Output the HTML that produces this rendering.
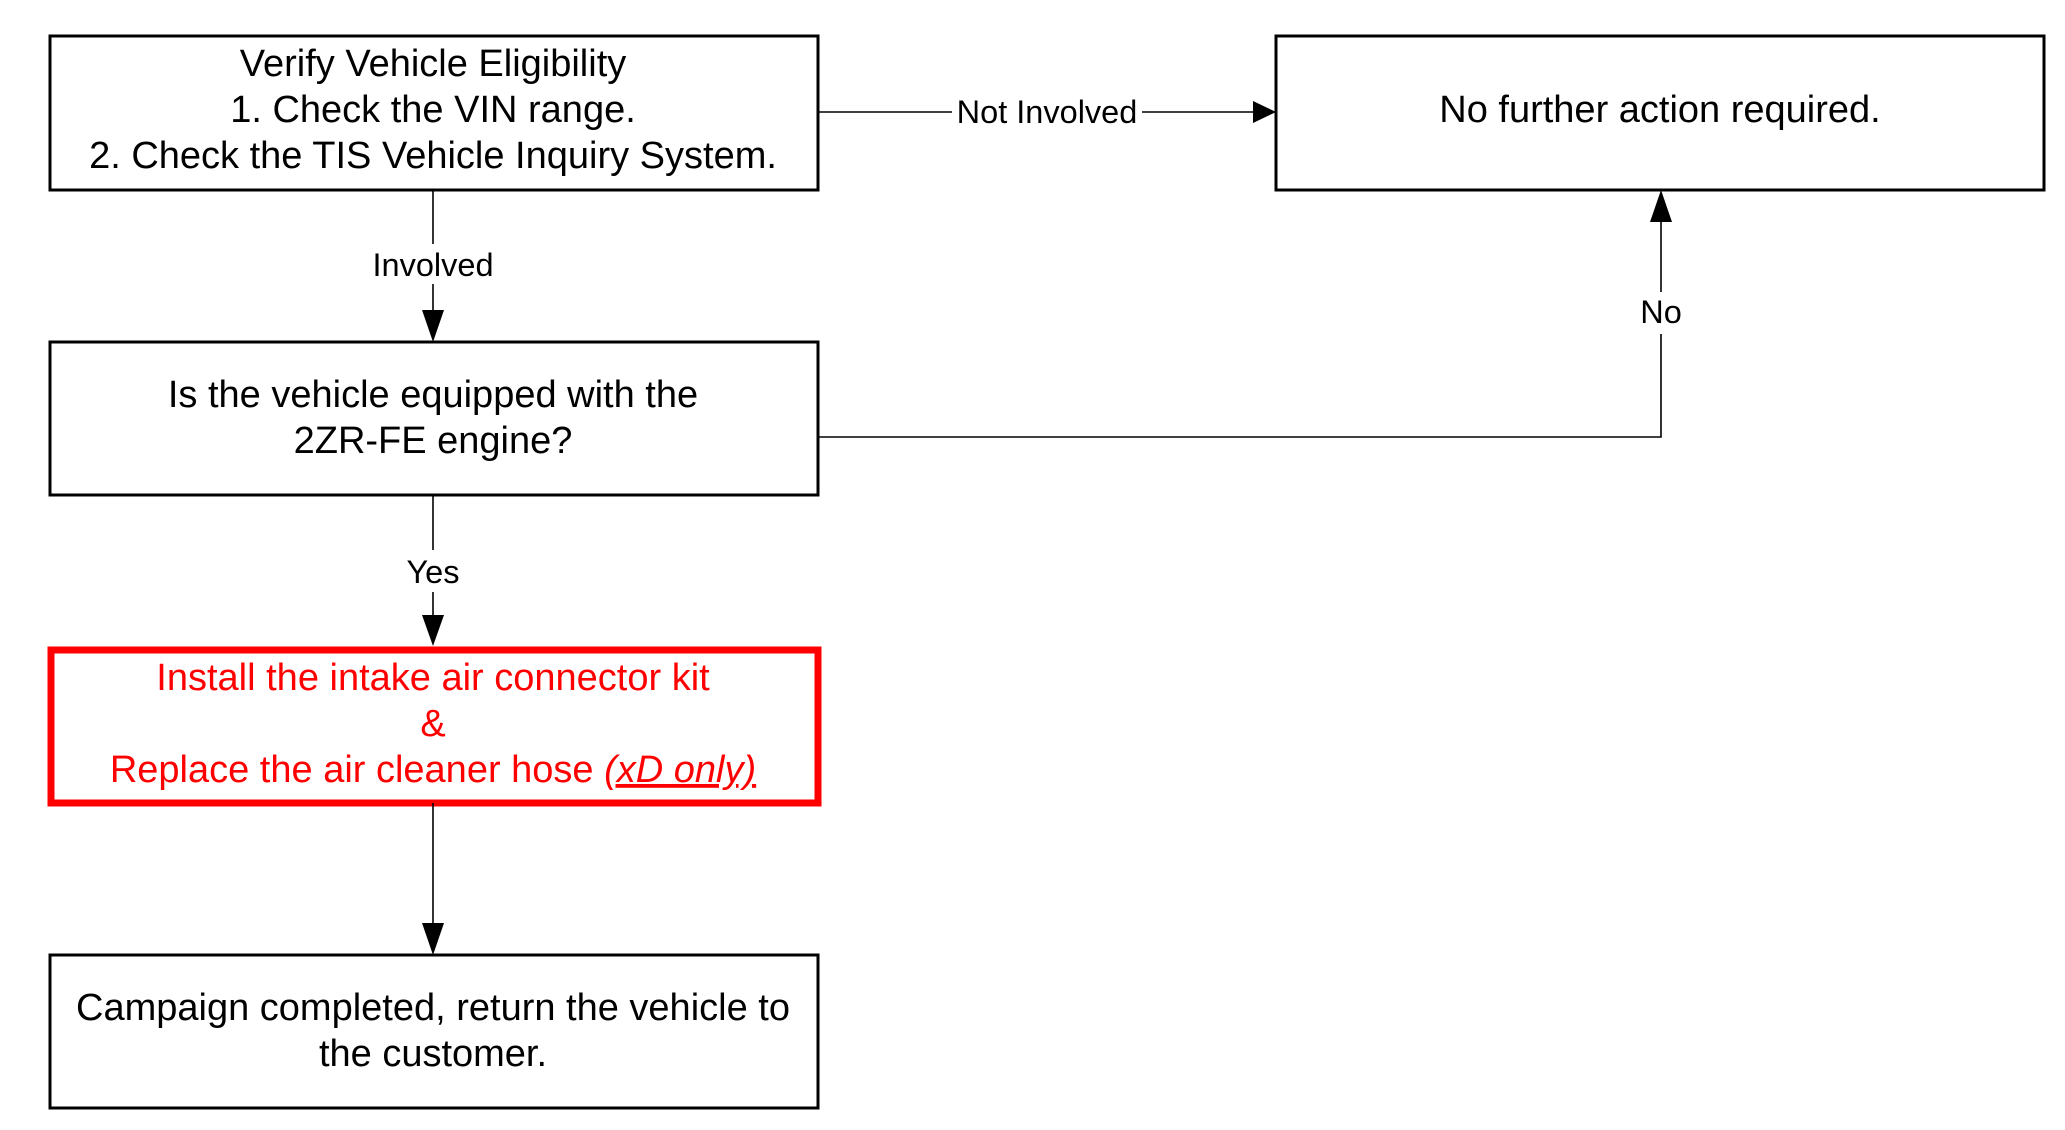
<!DOCTYPE html>
<html><head><meta charset="utf-8"><style>
html,body{margin:0;padding:0;background:#fff;}
svg{display:block;}
text{font-family:"Liberation Sans",Arial,sans-serif;}
</style></head><body>
<svg width="2065" height="1130" viewBox="0 0 2065 1130" xmlns="http://www.w3.org/2000/svg">
<g fill="none" stroke="#000" stroke-width="3">
<rect x="50" y="36" width="768" height="154"/>
<rect x="1276" y="36" width="768" height="154"/>
<rect x="50" y="342" width="768" height="153"/>
<rect x="50" y="955" width="768" height="153"/>
</g>
<rect x="51" y="650" width="767" height="153" fill="none" stroke="#f00" stroke-width="7"/>
<g stroke="#000" stroke-width="1.6" fill="none">
<line x1="818" y1="112" x2="952" y2="112"/>
<line x1="1142" y1="112" x2="1253" y2="112"/>
<line x1="433" y1="190" x2="433" y2="244"/>
<line x1="433" y1="284" x2="433" y2="310"/>
<line x1="433" y1="495" x2="433" y2="550"/>
<line x1="433" y1="592" x2="433" y2="616"/>
<line x1="433" y1="803" x2="433" y2="924"/>
<polyline points="818,437 1661,437 1661,334"/>
<line x1="1661" y1="292" x2="1661" y2="220"/>
</g>
<g fill="#000">
<polygon points="1253,101 1276,112 1253,123"/>
<polygon points="422,310 444,310 433,342"/>
<polygon points="422,615 444,615 433,646"/>
<polygon points="422,923 444,923 433,955"/>
<polygon points="1650,222 1672,222 1661,190"/>
</g>
<g font-size="38" text-anchor="middle" fill="#000">
<text x="433" y="76">Verify Vehicle Eligibility</text>
<text x="433" y="122">1. Check the VIN range.</text>
<text x="433" y="168">2. Check the TIS Vehicle Inquiry System.</text>
<text x="1660" y="122">No further action required.</text>
<text x="433" y="407">Is the vehicle equipped with the</text>
<text x="433" y="453">2ZR-FE engine?</text>
<text x="433" y="1020">Campaign completed, return the vehicle to</text>
<text x="433" y="1066">the customer.</text>
</g>
<g font-size="38" text-anchor="middle" fill="#f00">
<text x="433" y="690">Install the intake air connector kit</text>
<text x="433" y="736">&amp;</text>
<text x="433" y="782">Replace the air cleaner hose <tspan font-style="italic" text-decoration="underline">(xD only)</tspan></text>
</g>
<g font-size="32.5" text-anchor="middle" fill="#000">
<text x="1047" y="123">Not Involved</text>
<text x="433" y="276">Involved</text>
<text x="433" y="583">Yes</text>
<text x="1661" y="323">No</text>
</g>
</svg>
</body></html>
